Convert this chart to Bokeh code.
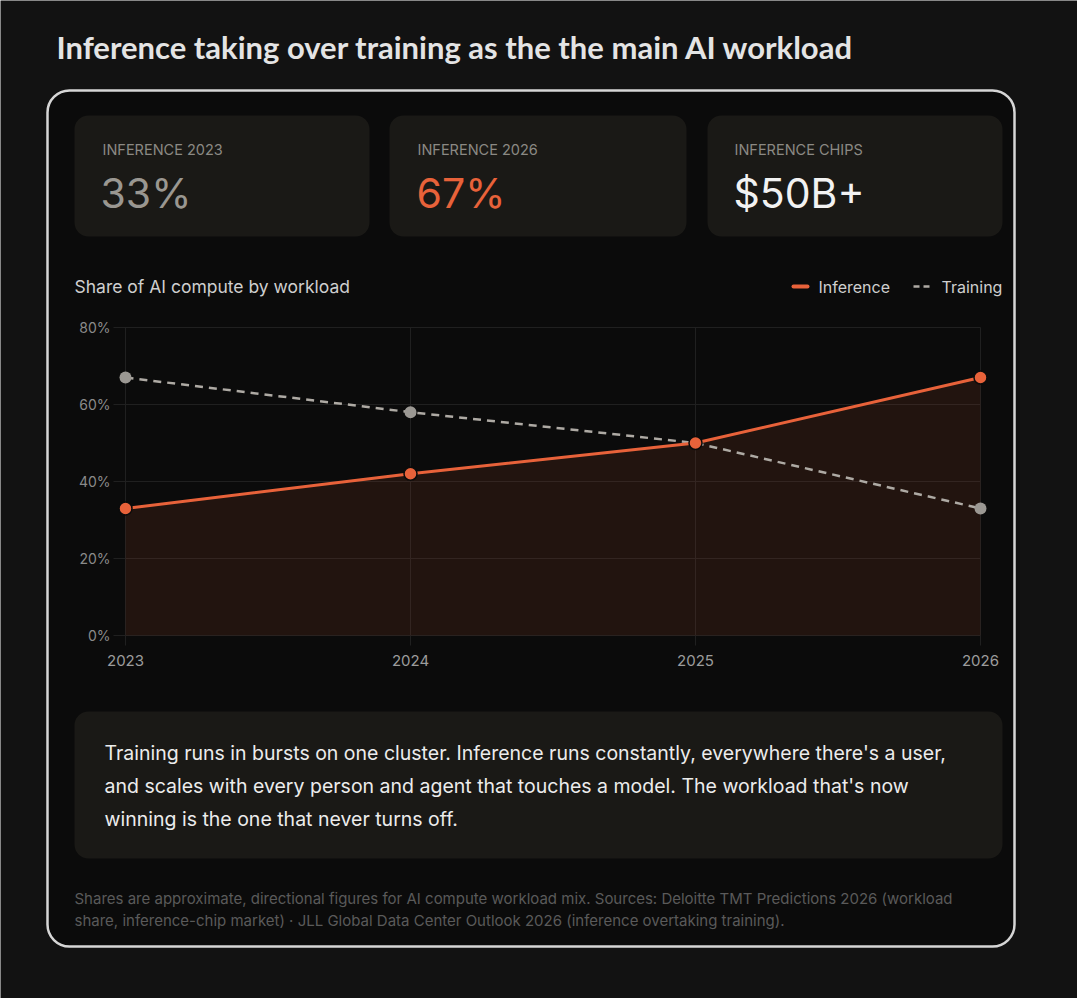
from bokeh.plotting import figure
from bokeh.models import Range1d
from bokeh.core.properties import value
from bokeh.embed import file_html
from bokeh.resources import INLINE

# ---------------- data ----------------
years = [2023, 2024, 2025, 2026]
inference = [33, 42, 50, 67]
training = [67, 58, 50, 33]
y_ticks = [0, 20, 40, 60, 80]
y_tick_labels = ["0%", "20%", "40%", "60%", "80%"]
x_tick_labels = ["2023", "2024", "2025", "2026"]
series_names = ["Inference", "Training"]
stat_labels = ["INFERENCE 2023", "INFERENCE 2026", "INFERENCE CHIPS"]
chip_market = "$50B+"
stat_values = [f"{inference[0]}%", f"{inference[-1]}%", chip_market]
title_text = "Inference taking over training as the the main AI workload"
chart_title = "Share of AI compute by workload"
body_lines = [
    "Training runs in bursts on one cluster. Inference runs constantly, everywhere there's a user,",
    "and scales with every person and agent that touches a model. The workload that's now",
    "winning is the one that never turns off.",
]
foot_lines = [
    "Shares are approximate, directional figures for AI compute workload mix. Sources: Deloitte TMT Predictions 2026 (workload",
    "share, inference-chip market) \u00b7 JLL Global Data Center Outlook 2026 (inference overtaking training).",
]

# ---------------- layout constants ----------------
W, H = 1077, 998
FONT = value("Inter")
ORANGE = "#e8623a"
GRAY = "#aeaaa4"

# chart plot area in page pixels
PX_LEFT, PX_RIGHT = 125, 980
PY_ZERO, PY_TOP = 635, 327
px_per_year = (PX_RIGHT - PX_LEFT) / (years[-1] - years[0])
px_per_pct = (PY_ZERO - PY_TOP) / (y_ticks[-1] - y_ticks[0])
yr_start = years[0] - PX_LEFT / px_per_year
yr_end = yr_start + W / px_per_year
pct_end = y_ticks[-1] + PY_TOP / px_per_pct
pct_start = y_ticks[0] - (H - PY_ZERO) / px_per_pct

p = figure(width=W, height=H, x_range=Range1d(0, W), y_range=Range1d(H, 0),
           output_backend="svg", toolbar_location=None, min_border=0,
           x_axis_location=None, y_axis_location=None,
           outline_line_color=None,
           background_fill_color="#121212", border_fill_color="#121212")
p.xgrid.visible = False
p.ygrid.visible = False
p.extra_x_ranges = {"yr": Range1d(yr_start, yr_end)}
p.extra_y_ranges = {"pct": Range1d(pct_start, pct_end)}

# title
p.text(x=[56], y=[46], text=[title_text], text_font=value("Lato"), text_font_style="bold",
       text_font_size="31px", text_color="#e4e4e4", text_baseline="middle")

# outer card
p.quad(left=[47], right=[1014], top=[90], bottom=[946], fill_color="#0b0b0b",
       line_color="#d6d6d6", line_width=2.5, border_radius=22)

# stat cards
p.quad(left=[74, 389, 707], right=[369, 686, 1002], top=[115] * 3, bottom=[236] * 3,
       fill_color="#1a1916", line_color=None, border_radius=14)
p.text(x=[102, 417, 734], y=[149] * 3, text=stat_labels, text_font=FONT,
       text_font_size="14.5px", text_color="#8b8984", text_baseline="middle")
p.text(x=[100, 416, 733], y=[192] * 3, text=stat_values, text_font=FONT,
       text_font_size="41px", text_color=["#9a9791", ORANGE, "#f2f2f2"],
       text_baseline="middle")

# chart title + legend
p.text(x=[74], y=[286], text=[chart_title], text_font=FONT, text_font_size="17.5px",
       text_color="#cfcfcf", text_baseline="middle")
p.segment(x0=[793], x1=[807], y0=[286], y1=[286], line_color=ORANGE, line_width=4,
          line_cap="round")
p.segment(x0=[913], x1=[931], y0=[286], y1=[286], line_color=GRAY, line_width=2.5,
          line_dash="6 4")
p.text(x=[818, 941], y=[286, 286], text=series_names, text_font=FONT,
       text_font_size="16px", text_color="#cfcfcf", text_baseline="middle")

# ---------------- chart (data through extra ranges) ----------------
R = dict(x_range_name="yr", y_range_name="pct")
padx = 12 / px_per_year
pady = 10 / px_per_pct
p.segment(x0=[years[0] - padx] * len(y_ticks), x1=[years[-1]] * len(y_ticks),
          y0=y_ticks, y1=y_ticks, line_color="#202020", line_width=1, **R)
p.segment(x0=years, x1=years, y0=[y_ticks[0] - pady] * len(years),
          y1=[y_ticks[-1]] * len(years), line_color="#202020", line_width=1, **R)

p.varea(x=years, y1=[0] * len(years), y2=inference, fill_color=ORANGE, fill_alpha=0.05, **R)
p.varea(x=years, y1=[0] * len(years), y2=inference, fill_color="#7a3a22", fill_alpha=0.12, **R)
p.line(years, training, line_color=GRAY, line_width=2.5, line_dash="8 6", **R)
p.line(years, inference, line_color=ORANGE, line_width=3, **R)
p.scatter(years, training, size=12, fill_color="#9b9893", line_color=None, **R)
p.scatter(years, inference, size=13, fill_color=ORANGE, line_color="#0b0b0b",
          line_width=1.5, **R)

p.text(x=[years[0]] * len(y_ticks), y=y_ticks, text=y_tick_labels, x_offset=-15,
       text_font=FONT, text_font_size="14px", text_color="#8a8a8a",
       text_align="right", text_baseline="middle", **R)
p.text(x=years, y=[y_ticks[0]] * len(years), text=x_tick_labels, y_offset=25,
       text_font=FONT, text_font_size="15px", text_color="#9c9c9c",
       text_align="center", text_baseline="middle", **R)

# text box
p.quad(left=[74], right=[1002], top=[711], bottom=[858], fill_color="#1a1916",
       line_color=None, border_radius=14)
p.text(x=[104] * 3, y=[752, 785, 818], text=body_lines, text_font=FONT,
       text_font_size="19.5px", text_color="#ececec", text_baseline="middle")

# footnote
p.text(x=[74, 74], y=[898, 920], text=foot_lines, text_font=FONT,
       text_font_size="15px", text_color="#5a5a5a", text_baseline="middle")

open("out.html", "w").write(file_html(p, INLINE))
